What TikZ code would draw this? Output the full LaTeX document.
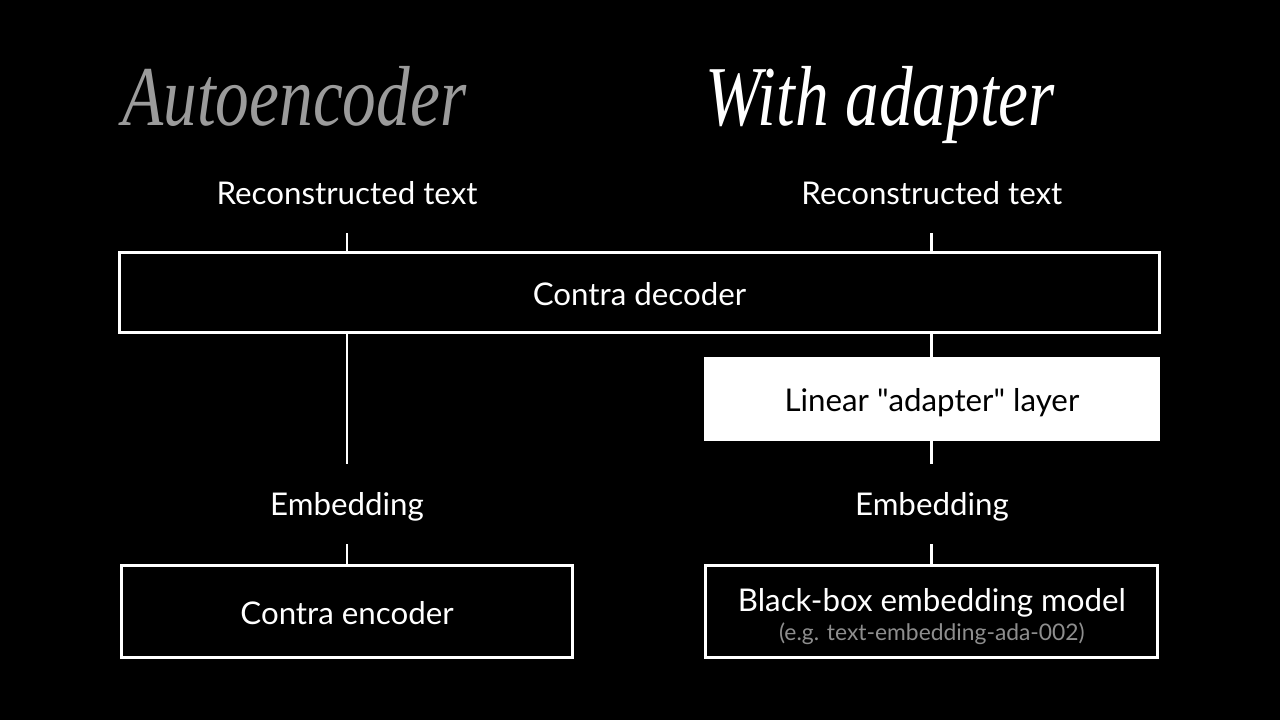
\documentclass[tikz,border=0pt]{standalone}
\usepackage{fontspec}
\setmainfont{Lato}
\newfontfamily\headfont[FakeStretch=0.79]{Liberation Serif}
\usetikzlibrary{positioning}

\definecolor{headgray}{HTML}{9B9B9B}
\definecolor{notegray}{HTML}{8E8E8E}

\newcommand{\lblfont}{\fontsize{17.8}{16.4}\selectfont}
\newcommand{\notefont}{\fontsize{13}{14}\selectfont}

\tikzset{
	head/.style={anchor=base west, inner sep=0pt, font=\headfont\itshape\fontsize{48.5}{50}\selectfont},
	lbl/.style={text=white, font=\lblfont, inner sep=0pt, text height=12.6pt, text depth=0pt, minimum height=1.6cm},
	block/.style={draw=white, line width=1.7pt, text=white, font=\lblfont, inner sep=0pt, minimum width=9.04cm, minimum height=1.84cm},
	capbox/.style={block, text height=15pt, text depth=0pt},
	adapterbox/.style={fill=white, text=black, font=\lblfont, inner sep=0pt, text height=14pt, text depth=0pt, minimum width=9.12cm, minimum height=1.68cm},
	link/.style={draw=white, line width=1.7pt}
}

\begin{document}
\begin{tikzpicture}[x=0.02cm,y=-0.02cm,on grid]
	\fill[black] (0,0) rectangle (1280,720);

	\node[head, text=headgray] (tl) at (122,125) {Autoencoder};
	\node[head, text=white] (tr) at (705,125) {With adapter};

	\node[capbox, minimum width=20.8cm, minimum height=1.6cm] (dec) at (639.5,292.5) {Contra decoder};

	\node[lbl] (recL) at (347,193)              {Reconstructed text};
	\node[lbl] (recR) [right=11.7cm of recL]    {Reconstructed text};
	\node[lbl] (embL) [below=6.22cm of recL]    {Embedding};
	\node[lbl] (embR) [below=6.22cm of recR]    {Embedding};
	\node[adapterbox] (adapt) [below=4.12cm of recR] {Linear \textquotedbl adapter\textquotedbl{} layer};
	\node[capbox] (enc) [below=2.15cm of embL]  {Contra encoder};
	\node[block, align=center] (bbox) [below=2.15cm of embR]
		{\rule{0pt}{19pt}Black-box embedding model\\{\notefont\color{notegray}(e.g. text-embedding-ada-002)}};

	\path[link] (recL) -- (recL |- dec.north)
				(dec.south -| recL) -- (embL)
				(embL) -- (enc)
				(recR) -- (recR |- dec.north)
				(dec.south -| recR) -- (adapt)
				(adapt) -- (embR)
				(embR) -- (bbox);
\end{tikzpicture}
\end{document}
